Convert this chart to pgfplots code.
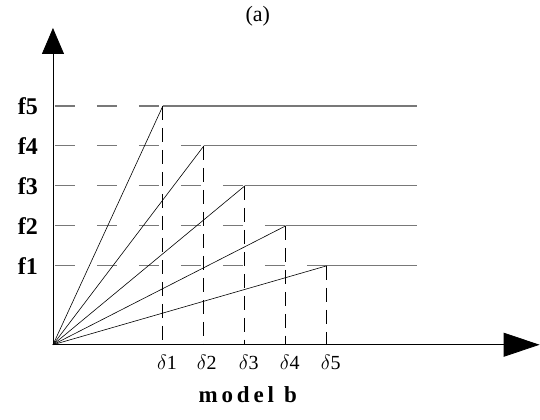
\documentclass[border=0pt]{standalone}
\usepackage{pgfplots}
\pgfplotsset{compat=1.18}
\usetikzlibrary{arrows.meta}
\usepackage{fontspec}
\setmainfont{Liberation Serif}
\definecolor{lg}{RGB}{120,120,120}
\begin{document}
\begin{tikzpicture}
\begin{axis}[
  x=1pt, y=1pt, xmin=0, xmax=540, ymin=0, ymax=420,
  hide axis, clip=false, scale only axis,
]
% bounding
\addplot[draw=none] coordinates {(0,0) (540,420)};
% axes
\addplot[black, line width=0.8pt, -{Triangle[width=22pt,length=26pt]}] coordinates {(53,75) (53,392)};
\addplot[black, line width=0.8pt, -{Triangle[width=24pt,length=36pt]}] coordinates {(53,75) (540,75)};
% horizontal solid lines
\addplot[lg, line width=1.2pt] coordinates {(163,314) (417,314)};
\addplot[lg, line width=1.2pt] coordinates {(204,274) (417,274)};
\addplot[lg, line width=1.2pt] coordinates {(245,234) (417,234)};
\addplot[lg, line width=1.2pt] coordinates {(286,194) (417,194)};
\addplot[lg, line width=1.2pt] coordinates {(327,154) (417,154)};
% horizontal dashed
\addplot[lg, line width=1.2pt, dash pattern=on 20pt off 22pt] coordinates {(55,314) (163,314)};
\addplot[lg, line width=1.2pt, dash pattern=on 20pt off 22pt] coordinates {(55,274) (204,274)};
\addplot[lg, line width=1.2pt, dash pattern=on 20pt off 22pt] coordinates {(55,234) (245,234)};
\addplot[lg, line width=1.2pt, dash pattern=on 20pt off 22pt] coordinates {(55,194) (286,194)};
\addplot[lg, line width=1.2pt, dash pattern=on 20pt off 22pt] coordinates {(55,154) (327,154)};
% vertical dashed
\addplot[black, line width=0.8pt, dash pattern=on 14pt off 8pt] coordinates {(163,314) (163,75)};
\addplot[black, line width=0.8pt, dash pattern=on 14pt off 8pt] coordinates {(204,274) (204,75)};
\addplot[black, line width=0.8pt, dash pattern=on 14pt off 8pt] coordinates {(245,234) (245,75)};
\addplot[black, line width=0.8pt, dash pattern=on 14pt off 8pt] coordinates {(286,194) (286,75)};
\addplot[black, line width=0.8pt, dash pattern=on 14pt off 8pt] coordinates {(327,154) (327,75)};
% diagonals
\addplot[black, line width=0.6pt] coordinates {(53,75) (163,314)};
\addplot[black, line width=0.6pt] coordinates {(53,75) (204,274)};
\addplot[black, line width=0.6pt] coordinates {(53,75) (245,234)};
\addplot[black, line width=0.6pt] coordinates {(53,75) (286,194)};
\addplot[black, line width=0.6pt] coordinates {(53,75) (327,154)};
% labels
\node[font=\fontsize{24}{26}\selectfont\bfseries] at (axis cs:28,314) {f5};
\node[font=\fontsize{24}{26}\selectfont\bfseries] at (axis cs:28,274) {f4};
\node[font=\fontsize{24}{26}\selectfont\bfseries] at (axis cs:28,234) {f3};
\node[font=\fontsize{24}{26}\selectfont\bfseries] at (axis cs:28,194) {f2};
\node[font=\fontsize{24}{26}\selectfont\bfseries] at (axis cs:28,154) {f1};
\node[font=\fontsize{20}{22}\selectfont] at (axis cs:167,57) {$\delta$1};
\node[font=\fontsize{20}{22}\selectfont] at (axis cs:207,57) {$\delta$2};
\node[font=\fontsize{20}{22}\selectfont] at (axis cs:249,57) {$\delta$3};
\node[font=\fontsize{20}{22}\selectfont] at (axis cs:290,57) {$\delta$4};
\node[font=\fontsize{20}{22}\selectfont] at (axis cs:331,57) {$\delta$5};
\node[font=\fontsize{22}{24}\selectfont, inner sep=0pt] at (axis cs:258,404) {(a)};
\node[font=\fontsize{23}{25}\selectfont\bfseries, inner sep=0pt] at (axis cs:248,25) {m\,o\,d\,e\,l\;\,b};
\end{axis}
\end{tikzpicture}
\end{document}
